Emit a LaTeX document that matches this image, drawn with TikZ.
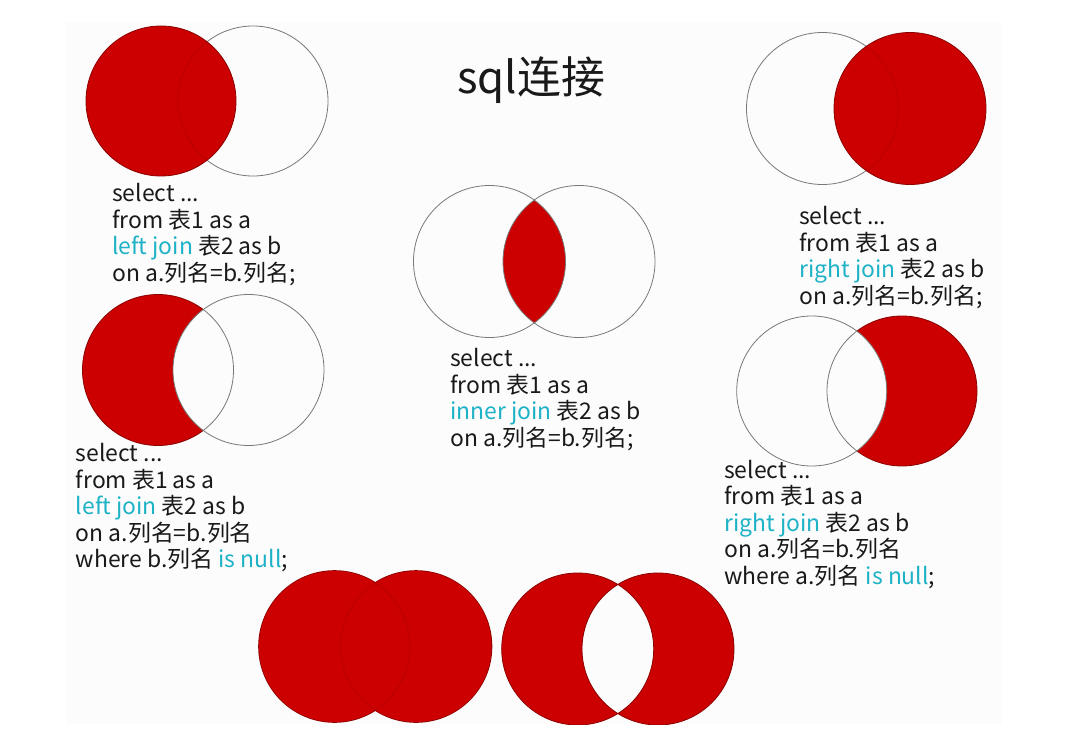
\documentclass[tikz,border=0pt]{standalone}
\usepackage{fontspec}
\setmainfont{Noto Sans CJK SC}
\definecolor{vred}{RGB}{204,0,0}
\definecolor{vedge}{RGB}{140,0,0}
\definecolor{vgray}{RGB}{120,120,120}
\definecolor{sqlcyan}{RGB}{30,178,198}
\definecolor{sqltext}{RGB}{25,25,25}
\definecolor{slidebg}{RGB}{252,252,253}
\newcommand\sqlkw[1]{\textcolor{sqlcyan}{#1}}
\begin{document}
\begin{tikzpicture}[x=1bp,y=-1bp,
  code/.style={anchor=base west, align=left, inner sep=0pt, text=sqltext,
    font=\fontsize{23}{26.6}\selectfont},
  titletext/.style={anchor=base west, inner sep=0pt, text=sqltext,
    font=\fontsize{44}{50}\selectfont},
  outline/.style={draw=vgray, line width=0.8bp},
  redline/.style={draw=vedge, line width=0.8bp},
  ghost/.style={draw=vedge, line width=1.2bp, opacity=0.2}]
\useasboundingbox (0,0) rectangle (1068,739);
\fill[white] (0,0) rectangle (1068,739);
\fill[slidebg] (66,22) rectangle (1002,724);

% centres
\coordinate (tlA) at (161,101);   \coordinate (tlB) at (253,101);
\coordinate (trA) at (822.5,108.5); \coordinate (trB) at (910,108.5);
\coordinate (inA) at (489.5,261.5); \coordinate (inB) at (579,261.5);
\coordinate (lmA) at (158,370);   \coordinate (lmB) at (248.5,370);
\coordinate (rmA) at (811.7,391); \coordinate (rmB) at (902,391);
\coordinate (bAa) at (334.5,646.5); \coordinate (bAb) at (416,646.5);
\coordinate (bBa) at (577.7,649); \coordinate (bBb) at (658,649);

\begin{scope}
\clip (66,22) rectangle (1002,724);
% left join (top left)
\draw[outline] (tlB) circle (75bp);
\filldraw[fill=vred, redline] (tlA) circle (75bp);
\begin{scope}\clip (tlA) circle (75bp); \draw[ghost] (tlB) circle (75bp);\end{scope}

% right join (top right)
\draw[outline] (trA) circle (76bp);
\filldraw[fill=vred, redline] (trB) circle (76bp);
\begin{scope}\clip (trB) circle (76bp); \draw[ghost] (trA) circle (76bp);\end{scope}

% inner join
\begin{scope}\clip (inA) circle (76bp); \fill[vred] (inB) circle (76bp);\end{scope}
\draw[outline] (inA) circle (76bp);
\draw[outline] (inB) circle (76bp);

% left anti join
\filldraw[fill=vred, redline] (lmA) circle (75.5bp);
\fill[slidebg] (lmB) circle (75.5bp);
\draw[outline] (lmB) circle (75.5bp);
\begin{scope}\clip (lmB) circle (75.5bp); \draw[outline] (lmA) circle (75.5bp);\end{scope}

% right anti join
\filldraw[fill=vred, redline] (rmB) circle (75bp);
\fill[slidebg] (rmA) circle (75bp);
\draw[outline] (rmA) circle (75bp);
\begin{scope}\clip (rmA) circle (75bp); \draw[outline] (rmB) circle (75bp);\end{scope}

% full outer join
\draw[vedge, line width=1.6bp] (bAa) circle (75.5bp) (bAb) circle (75.5bp);
\fill[vred] (bAa) circle (75.5bp) (bAb) circle (75.5bp);
\begin{scope}\clip (bAa) circle (75.5bp); \draw[ghost] (bAb) circle (75.5bp);\end{scope}
\begin{scope}\clip (bAb) circle (75.5bp); \draw[ghost] (bAa) circle (75.5bp);\end{scope}

% symmetric difference
\filldraw[fill=vred, redline, even odd rule] (bBa) circle (76bp) (bBb) circle (76bp);
\end{scope}

% texts (anchor = baseline of the last line)
\node[titletext] (title) at (457,93.5) {sql连接};
\node[code] (tlcode) at (112,281.3) {select ...\\from 表1 as a\\\sqlkw{left join} 表2 as b\\on a.列名=b.列名;};
\node[code] (trcode) at (799,304.3) {select ...\\from 表1 as a\\\sqlkw{right join} 表2 as b\\on a.列名=b.列名;};
\node[code] (incode) at (450,446.3) {select ...\\from 表1 as a\\\sqlkw{inner join} 表2 as b\\on a.列名=b.列名;};
\node[code] (lmcode) at (75.7,567.9) {select ...\\from 表1 as a\\\sqlkw{left join} 表2 as b\\on a.列名=b.列名\\where b.列名 \sqlkw{is null};};
\node[code] (rmcode) at (724,584.4) {select ...\\from 表1 as a\\\sqlkw{right join} 表2 as b\\on a.列名=b.列名\\where a.列名 \sqlkw{is null};};
\end{tikzpicture}
\end{document}
